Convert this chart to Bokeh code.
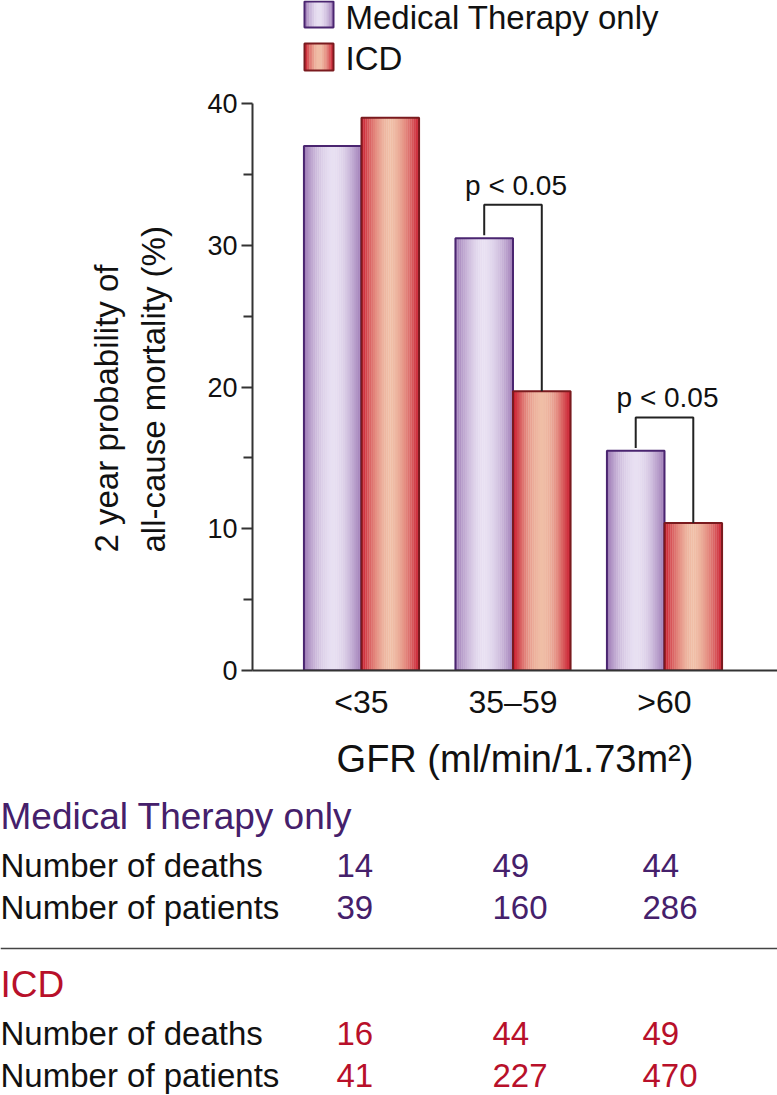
import numpy as np
from bokeh.plotting import figure
from bokeh.models import Range1d, FixedTicker, Title
from bokeh.core.properties import value
from bokeh.embed import file_html
from bokeh.resources import INLINE

# ---------------- data ----------------
categories = ["<35", "35\u201359", ">60"]
medical = [37.0, 30.5, 15.5]
icd = [39.0, 19.7, 10.4]
sig_groups = [1, 2]
sig_labels = ["p < 0.05", "p < 0.05"]
series_names = ["Medical Therapy only", "ICD"]
y_title = "2 year probability of\nall-cause mortality (%)"
x_title = "GFR (ml/min/1.73m\u00b2)"
row_labels = ["Number of deaths", "Number of patients"]
med_deaths = [14, 49, 44]
med_patients = [39, 160, 286]
icd_deaths = [16, 44, 49]
icd_patients = [41, 227, 470]
y_ticks = [0, 10, 20, 30, 40]
y_minor = [5, 15, 25, 35]

# ---------------- style ----------------
FONT = "Liberation Sans"
PURPLE_TXT = "#45206b"
RED_TXT = "#b8102a"
PURPLE_EDGE = (156, 120, 180)
PURPLE_MID = (232, 224, 242)
RED_EDGE = (200, 22, 42)
RED_MID = (240, 190, 166)
PURPLE_LINE = "#4a2570"
RED_LINE = "#7a1a1e"
AX = "#333333"
TXT = "#111111"

W = 777
LEFT = 252
FRAME_W = W - LEFT
FRAME_H = 670
BOTTOM = 120
HA = FRAME_H + BOTTOM
PX_Y = 14.175          # pixels per percent
PX_G = 151.5           # pixels per group
x_start = 1 - 109 / PX_G
x_end = x_start + FRAME_W / PX_G
y_end = FRAME_H / PX_Y
BW = 0.38


def sx(px):  # figure px -> data x
    return x_start + (px - LEFT) / PX_G


def sy(py):  # figure px from top -> data y
    return (FRAME_H - py) / PX_Y


def lerp(c1, c2, t):
    return "#%02x%02x%02x" % tuple(int(round(a + (b - a) * t)) for a, b in zip(c1, c2))


def shade(u):
    d = min(1.0, abs(u - 0.5) / 0.5)
    return 1 - d ** 1.8


def gradient_quads(lefts, rights, tops, bottoms, edge, mid, n=30):
    L, R, T, B, C = [], [], [], [], []
    for l, r, t, b in zip(lefts, rights, tops, bottoms):
        w = (r - l) / n
        for k in range(n):
            u = (k + 0.5) / n
            L.append(l + k * w)
            R.append(l + (k + 1) * w + w * 0.15)
            T.append(t)
            B.append(b)
            C.append(lerp(edge, mid, shade(u)))
    return dict(left=L, right=R, top=T, bottom=B, color=C)


p = figure(frame_width=FRAME_W, frame_height=FRAME_H,
           x_range=Range1d(x_start, x_end), y_range=Range1d(0, y_end),
           output_backend="svg", toolbar_location=None,
           min_border_left=LEFT, min_border_right=0, min_border_top=0,
           min_border_bottom=BOTTOM)
p.grid.visible = False
p.outline_line_color = None
p.background_fill_color = "white"
p.border_fill_color = "white"

groups = np.arange(1, len(categories) + 1)
med_x = groups - BW / 2
icd_x = groups + BW / 2

# gradient bars
for xs, vals, edge, mid, lc in [(med_x, medical, PURPLE_EDGE, PURPLE_MID, PURPLE_LINE),
                               (icd_x, icd, RED_EDGE, RED_MID, RED_LINE)]:
    q = gradient_quads(xs - BW / 2, xs + BW / 2, vals, [0] * len(vals), edge, mid)
    p.quad(left=q["left"], right=q["right"], top=q["top"], bottom=q["bottom"],
           fill_color=q["color"], line_color=None)
    p.vbar(x=xs, width=BW, top=vals, bottom=0, fill_color=None,
           line_color=lc, line_width=2)

# significance brackets
bx, by, tx, ty = [], [], [], []
for g in sig_groups:
    top = max(medical[g], icd[g]) + 2.35
    bx.append([med_x[g], med_x[g], icd_x[g], icd_x[g]])
    by.append([medical[g] + 0.2, top, top, icd[g]])
    tx.append(groups[g] + 0.02)
    ty.append(top + 1.38)
p.multi_line(xs=bx, ys=by, line_color="#222222", line_width=2)
p.text(x=tx, y=ty, text=sig_labels, text_align="center", text_baseline="middle",
       text_font=value(FONT), text_font_size="28px", text_color=TXT)

# legend (manual, gradient swatches)
leg_l = [sx(304), sx(304)]
leg_r = [sx(333), sx(333)]
leg_top = [sy(1), sy(43)]
leg_bot = [sy(27), sy(70)]
for i, (edge, mid, lc) in enumerate([(PURPLE_EDGE, PURPLE_MID, PURPLE_LINE),
                                     (RED_EDGE, RED_MID, RED_LINE)]):
    q = gradient_quads([leg_l[i]], [leg_r[i]], [leg_top[i]], [leg_bot[i]], edge, mid, n=12)
    p.quad(left=q["left"], right=q["right"], top=q["top"], bottom=q["bottom"],
           fill_color=q["color"], line_color=None)
    p.quad(left=[leg_l[i]], right=[leg_r[i]], top=[leg_top[i]], bottom=[leg_bot[i]],
           fill_color=None, line_color=lc, line_width=2)
p.text(x=[sx(345)] * 2, y=[sy(17), sy(58)], text=series_names, text_align="left",
       text_baseline="middle", text_font=value(FONT), text_font_size="33px",
       text_color=TXT)

# axes
xa = p.xaxis[0]
xa.ticker = FixedTicker(ticks=list(groups))
xa.major_label_overrides = {int(g): c for g, c in zip(groups, categories)}
xa.major_tick_out = 0
xa.major_tick_in = 0
xa.minor_tick_out = 0
xa.minor_tick_in = 0
xa.axis_line_color = AX
xa.axis_line_width = 2
xa.major_label_text_font = FONT
xa.major_label_text_font_size = "32px"
xa.major_label_text_color = TXT
xa.major_label_standoff = 13
xa.axis_label = x_title
xa.axis_label_text_font = FONT
xa.axis_label_text_font_style = "normal"
xa.axis_label_text_font_size = "38px"
xa.axis_label_text_color = TXT
xa.axis_label_standoff = 15

ya = p.yaxis[0]
ya.ticker = FixedTicker(ticks=y_ticks, minor_ticks=y_minor)
ya.bounds = (0, 40)
ya.major_tick_out = 11
ya.major_tick_in = 0
ya.minor_tick_out = 9
ya.minor_tick_in = 0
ya.major_tick_line_color = AX
ya.minor_tick_line_color = AX
ya.major_tick_line_width = 2
ya.minor_tick_line_width = 2
ya.axis_line_color = AX
ya.axis_line_width = 2
ya.major_label_text_font = FONT
ya.major_label_text_font_size = "27px"
ya.major_label_text_color = TXT
ya.major_label_standoff = 4

# two-line y axis title, placed along the 0-40 span of the axis
p.add_layout(Title(text=y_title, align="left", offset=118, standoff=66,
                   text_font=FONT, text_font_size="33px", text_font_style="normal",
                   text_line_height=1.25, text_color=TXT), "left")

# ---------------- table ----------------
HB = 1095 - HA
t = figure(width=W, height=HB, x_range=Range1d(0, W), y_range=Range1d(HB, 0),
           output_backend="svg", toolbar_location=None, min_border=0,
           x_axis_location=None, y_axis_location=None)
t.grid.visible = False
t.outline_line_color = None
t.background_fill_color = "white"
t.border_fill_color = "white"

col_x = [336, 492, 642]
blocks = [
    (series_names[0], PURPLE_TXT, med_deaths, med_patients, 816 - HA),
    (series_names[1], RED_TXT, icd_deaths, icd_patients, 984 - HA),
]
for name, colr, deaths, patients, y0 in blocks:
    t.text(x=[0], y=[y0], text=[name], text_font=value(FONT), text_font_size="37px",
           text_color=colr, text_baseline="middle")
    ys = [y0 + 48.5, y0 + 91]
    t.text(x=[0, 0], y=ys, text=row_labels, text_font=value(FONT), text_font_size="33px",
           text_color=TXT, text_baseline="middle")
    t.text(x=col_x, y=[ys[0]] * 3, text=[str(v) for v in deaths], text_font=value(FONT),
           text_font_size="33px", text_color=colr, text_baseline="middle")
    t.text(x=col_x, y=[ys[1]] * 3, text=[str(v) for v in patients], text_font=value(FONT),
           text_font_size="33px", text_color=colr, text_baseline="middle")
t.line(x=[0, W], y=[948 - HA, 948 - HA], line_color="#444444", line_width=1.5)

open("out.html", "w").write(file_html([p, t], INLINE))
